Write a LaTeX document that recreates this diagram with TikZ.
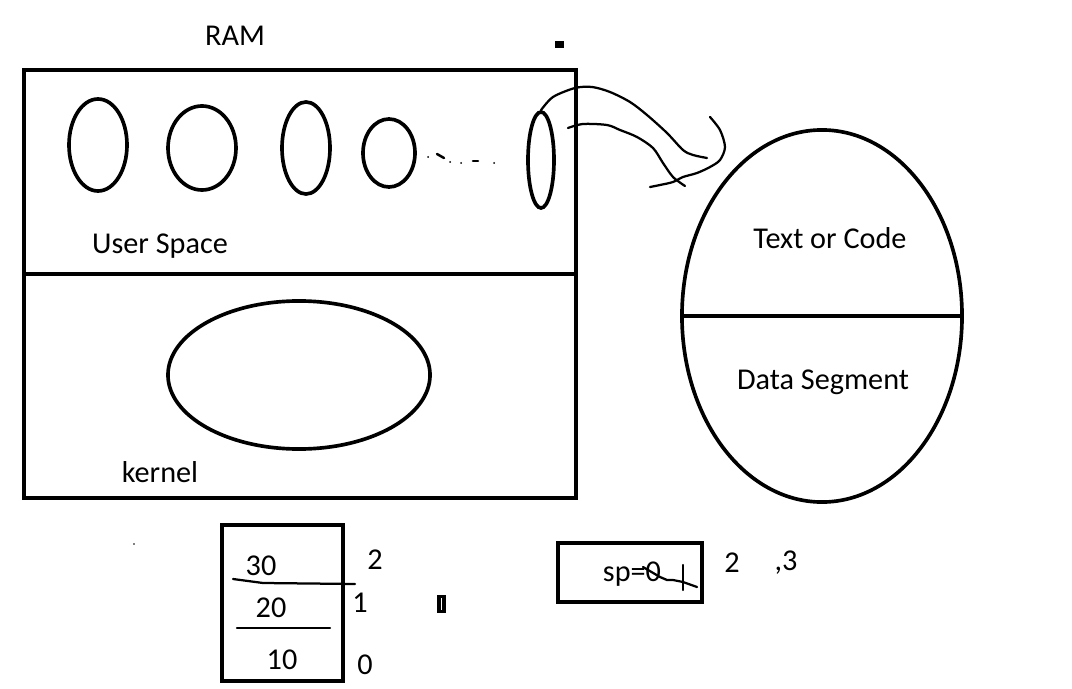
\documentclass[tikz,border=0pt]{standalone}
\usepackage{fontspec}
\setmainfont{Carlito}
\usetikzlibrary{shapes.geometric}
\tikzset{
  % ---- boxes and blobs -------------------------------------------
  frame/.style    = {draw=black, line width=2.8pt, inner sep=0pt},
  blob/.style     = {ellipse, draw=black, line width=2.6pt, inner sep=0pt},
  divider/.style  = {draw=black, line width=2.6pt},
  % ---- hand strokes ----------------------------------------------
  pen/.style      = {draw=black, line width=1.6pt, line cap=round,
                     line join=round},
  speck/.style    = {fill=black},
  % ---- text ------------------------------------------------------
  lbl/.style      = {font=\fontsize{21.5}{24}\selectfont, inner sep=0pt},
}
\begin{document}
\begin{tikzpicture}[x=0.025cm, y=-0.025cm]
  \useasboundingbox (0,0) rectangle (1072,689);
  % RAM
  \node[lbl] (ramlbl) at (235,36) {RAM};
  \node[frame, minimum width=13.8cm, minimum height=10.7cm] (ram) at (300,284) {};
  \draw[divider] (24,274) -- (576,274);
  \node[blob, minimum width=1.45cm, minimum height=2.3cm] (p1) at (98,145) {};
  \node[blob, minimum width=1.7cm, minimum height=2.1cm] (p2) at (202,148) {};
  \node[blob, minimum width=1.2cm, minimum height=2.3cm] (p3) at (306,148) {};
  \node[blob, minimum width=1.3cm, minimum height=1.7cm] (p4) at (389,153) {};
  \node[blob, minimum width=0.65cm, minimum height=2.4cm] (p5) at (541,160) {};
  \node[lbl] (user) at (160,246) {User Space};
  \node[blob, minimum width=6.55cm, minimum height=3.7cm] (kern) at (299,375) {};
  \node[lbl] (kernlbl) at (160,472) {kernel};
  % dots between processes
  \fill[speck] (428,157) circle (1);
  \draw[pen, line width=1.8pt] (437,154) -- (444,158);
  \fill[speck] (450,162) circle (1);
  \fill[speck] (461,163) circle (1);
  \draw[pen, line width=1.8pt] (473,161) -- (478,161);
  \fill[speck] (494,163) circle (1);
  \fill[speck] (555,41) rectangle (564,48);
  % process image
  \node[blob, minimum width=7.0cm, minimum height=9.3cm] (img) at (822,316) {};
  \draw[divider] (img.west) -- (img.east);
  \node[lbl] (text) at (830,238) {Text or Code};
  \node[lbl] (data) at (823,382) {Data Segment};
  % hand-drawn arrow
  \draw[pen] plot[smooth] coordinates {(p5.north) (553,97) (575,88) (592,87)
    (610,92) (630,102) (647,115) (667,133) (683,150) (693,155) (707,158)};
  \draw[pen] plot[smooth] coordinates {(568,128) (583,124) (607,125) (620,130)
    (637,137) (653,148) (663,163) (673,177) (685,186)};
  \draw[pen] plot[smooth] coordinates {(710,117) (720,130) (725,147) (720,160)
    (710,167) (697,173) (683,177) (673,182) (660,185) (650,187)};
  % stack
  \node[frame, minimum width=3.025cm, minimum height=3.9cm] (stack) at (282.5,603) {};
  \node[lbl] (v30) at (261,566) {30};
  \node[lbl] (v20) at (271,608) {20};
  \node[lbl] (v10) at (282,660) {10};
  \draw[pen] (233,579) -- (263,583) -- (355,584);
  \draw[pen] (237,628) -- (280,628) -- (330,628);
  \node[lbl] (i2) at (375,560) {2};
  \node[lbl] (i1) at (360,603) {1};
  \node[lbl] (i0) at (365,665) {0};
  \fill[speck] (437,595) rectangle (446,613);
  \fill[white] (441,598) rectangle (442,610);
  \fill[speck] (134,544) circle (0.8);
  % stack pointer
  \node[frame, minimum width=3.6cm, minimum height=1.475cm] (sp) at (630,572.5) {};
  \node[lbl] (splbl) at (632,574) {sp=0};
  \draw[pen] (643,567) -- (660,577) -- (667,580) -- (673,580) -- (683,582) -- (697,587);
  \draw[pen] (683,565) -- (683,590);
  \node[lbl] (s2) at (732,563) {2};
  \node[lbl] (s3) at (786,563) {,3};
\end{tikzpicture}
\end{document}
